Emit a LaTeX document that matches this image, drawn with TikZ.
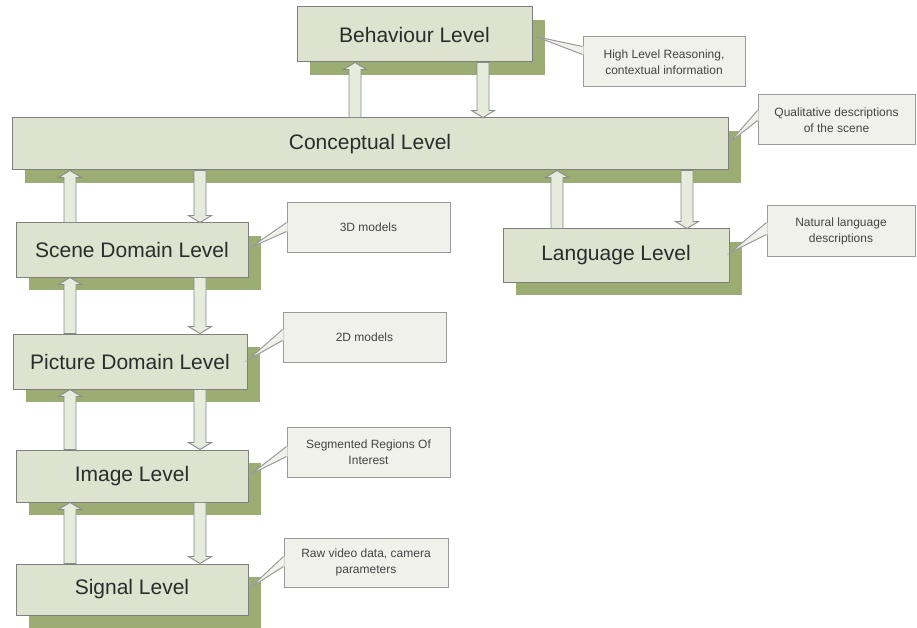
\documentclass[tikz,border=0pt]{standalone}
\usepackage{fontspec}
\setmainfont{Liberation Sans}
\usetikzlibrary{calc,shadows}
\definecolor{boxfill}{HTML}{DDE3CF}
\definecolor{boxline}{HTML}{7F7F7F}
\definecolor{shadowc}{HTML}{9BAD72}
\definecolor{callfill}{HTML}{F0F1EB}
\definecolor{callline}{HTML}{9A9A9A}
\definecolor{arrfill}{HTML}{E6EBDC}
\definecolor{arrline}{HTML}{8A8A8A}
\definecolor{txt}{HTML}{2C2C2C}
\definecolor{ctxt}{HTML}{444444}
\newcommand{\blkup}[2]{\draw[blkarr] let \p1=(#1), \p2=(#2) in (\x1-6pt,\y1) -- (\x1-6pt,\y2-7pt) -- (\x1-11.5pt,\y2-7pt) -- (\x1,\y2) -- (\x1+11.5pt,\y2-7pt) -- (\x1+6pt,\y2-7pt) -- (\x1+6pt,\y1) -- cycle;}
\newcommand{\blkdn}[2]{\draw[blkarr] let \p1=(#1), \p2=(#2) in (\x1-6pt,\y1) -- (\x1-6pt,\y2+7pt) -- (\x1-11.5pt,\y2+7pt) -- (\x1,\y2) -- (\x1+11.5pt,\y2+7pt) -- (\x1+6pt,\y2+7pt) -- (\x1+6pt,\y1) -- cycle;}
% #1 callout node, #2 tip, #3 first offset from top, #4 second offset
\newcommand{\callwedge}[4]{%
  \fill[callfill] ($(#1.north west)+(1.2,#3)$) -- (#2) -- ($(#1.north west)+(1.2,#4)$) -- cycle;
  \draw[callline, line width=1pt] ($(#1.north west)+(0,#3)$) -- (#2) -- ($(#1.north west)+(0,#4)$);}
\begin{document}
\begin{tikzpicture}[x=1pt,y=-1pt,
  lvl/.style={draw=boxline, line width=1pt, fill=boxfill, text=txt, inner sep=0pt,
    font=\fontsize{21}{24}\selectfont,
    drop shadow={shadow xshift=13pt, shadow yshift=-13pt, fill=shadowc, opacity=1}},
  callout/.style={draw=callline, line width=1pt, fill=callfill, text=ctxt, inner sep=0pt,
    align=center, font=\fontsize{12}{16}\selectfont},
  blkarr/.style={draw=arrline, fill=arrfill, line width=0.9pt, line join=miter}]
\useasboundingbox (0,0) rectangle (917,628);

% level boxes
\node[lvl, minimum width=235pt, minimum height=55pt] (beh) at (414.5,34.5) {Behaviour Level};
\node[lvl, minimum width=716pt, minimum height=52pt] (conc) at (370,144) {Conceptual Level};
\node[lvl, minimum width=232pt, minimum height=54pt] (scene) at (132,250) {Scene Domain Level};
\node[lvl, minimum width=234pt, minimum height=55pt] (pict) at (130,361.5) {Picture Domain Level};
\node[lvl, minimum width=232pt, minimum height=52pt] (img) at (132,476) {Image Level};
\node[lvl, minimum width=232pt, minimum height=51pt] (sig) at (132,589.5) {Signal Level};
\node[lvl, minimum width=226pt, minimum height=53pt] (lang) at (616,255.5) {Language Level};

% arrow columns
\coordinate (xa) at (70,0);
\coordinate (xb) at (200,0);
\coordinate (xc) at (355,0);
\coordinate (xd) at (483,0);
\coordinate (xe) at (557,0);
\coordinate (xf) at (687,0);

\blkup{conc.north -| xc}{beh.south -| xc}
\blkdn{beh.south -| xd}{conc.north -| xd}
\blkup{scene.north -| xa}{conc.south -| xa}
\blkdn{conc.south -| xb}{scene.north -| xb}
\blkup{pict.north -| xa}{scene.south -| xa}
\blkdn{scene.south -| xb}{pict.north -| xb}
\blkup{img.north -| xa}{pict.south -| xa}
\blkdn{pict.south -| xb}{img.north -| xb}
\blkup{sig.north -| xa}{img.south -| xa}
\blkdn{img.south -| xb}{sig.north -| xb}
\blkup{lang.north -| xe}{conc.south -| xe}
\blkdn{conc.south -| xf}{lang.north -| xf}

% callouts
\node[callout, minimum width=162pt, minimum height=50pt] (cbeh) at (664,62) {High Level Reasoning,\\contextual information};
\node[callout, minimum width=157pt, minimum height=50pt] (cconc) at (836.5,120) {Qualitative descriptions\\of the scene};
\node[callout, minimum width=148pt, minimum height=50pt] (clang) at (841,231) {Natural language\\descriptions};
\node[callout, minimum width=163pt, minimum height=49pt] (cscene) at (368.5,227.5) {3D models};
\node[callout, minimum width=163pt, minimum height=50pt] (cpict) at (364.5,337) {2D models};
\node[callout, minimum width=163pt, minimum height=50pt] (cimg) at (368.5,452) {Segmented Regions Of\\Interest};
\node[callout, minimum width=164pt, minimum height=49pt] (csig) at (366,562.5) {Raw video data, camera\\parameters};

\coordinate (tbeh) at ($(beh.north east)+(3,30)$);
\coordinate (tconc) at ($(conc.north east)+(1,25)$);
\coordinate (tlang) at ($(lang.north east)+(1,24)$);
\coordinate (tscene) at ($(scene.north east)+(2,25)$);
\coordinate (tpict) at ($(pict.north east)+(1,26)$);
\coordinate (timg) at ($(img.north east)+(2,25)$);
\coordinate (tsig) at ($(sig.north east)+(2,24)$);

\callwedge{cbeh}{tbeh}{10}{18}
\callwedge{cconc}{tconc}{16}{26}
\callwedge{clang}{tlang}{17}{29}
\callwedge{cscene}{tscene}{20}{29}
\callwedge{cpict}{tpict}{18}{29}
\callwedge{cimg}{timg}{20}{30}
\callwedge{csig}{tsig}{19}{29}
\end{tikzpicture}
\end{document}
